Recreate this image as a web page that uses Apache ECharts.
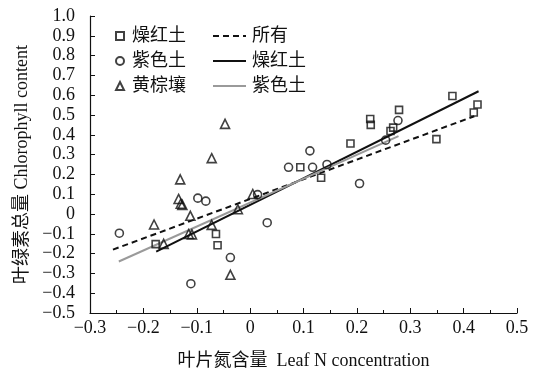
<!DOCTYPE html>
<html><head><meta charset="utf-8">
<script src="https://cdn.jsdelivr.net/npm/echarts@6/dist/echarts.min.js"></script>
<style>html,body{margin:0;padding:0;background:#fff}#c{width:534px;height:375px}</style>
</head><body><div id="c"></div>
<script>
// 燥红土 points [leafN, chlorophyll]
var redSoil = [[-0.177,-0.152],[-0.064,-0.101],[-0.061,-0.158],[0.094,0.236],[0.133,0.183],[0.188,0.356],[0.225,0.480],[0.226,0.450],[0.263,0.419],[0.268,0.436],[0.279,0.526],[0.349,0.378],[0.379,0.596],[0.419,0.513],[0.426,0.553]];
// 紫色土 points
var purpleSoil = [[-0.245,-0.097],[-0.111,-0.352],[-0.098,0.080],[-0.083,0.065],[-0.037,-0.220],[0.014,0.098],[0.032,-0.044],[0.072,0.236],[0.112,0.319],[0.117,0.236],[0.144,0.250],[0.205,0.154],[0.254,0.373],[0.277,0.472]];
// 黄棕壤 points
var yellowBrown = [[-0.180,-0.053],[-0.162,-0.151],[-0.131,0.175],[-0.134,0.076],[-0.130,0.052],[-0.127,0.046],[-0.112,-0.009],[-0.115,-0.101],[-0.109,-0.103],[-0.072,-0.055],[-0.072,0.282],[-0.047,0.455],[-0.037,-0.307],[-0.023,0.024],[0.005,0.101]];
// fitted lines (endpoints)
var fitAll = [[-0.257,-0.180],[0.420,0.494]];
var fitRed = [[-0.176,-0.190],[0.428,0.620]];
var fitPurple = [[-0.246,-0.240],[0.278,0.393]];
var scatterNames = ['燥红土','紫色土','黄棕壤'];
var lineNames = ['所有','燥红土','紫色土'];

var ink = '#111';
var serif = '"Liberation Serif","Times New Roman","Noto Sans CJK SC",serif';
function fmt(v){ var r = Math.round(v*10)/10; var s = (r===0)?'0':r.toFixed(1); return s.replace('-', '\u2212'); }
var hollow = {color:'rgba(255,255,255,0)', borderColor:ink, borderWidth:1.6};

var chart = echarts.init(document.getElementById('c'), null, {renderer:'canvas'});
chart.setOption({
  animation:false,
  backgroundColor:'#fff',
  grid:{left:90, right:17, top:16, bottom:55},
  legend:[{
    orient:'vertical', left:110, top:22, itemWidth:8, itemHeight:8, itemGap:7,
    data:['s0','s1','s2'],
    formatter:function(n){return scatterNames[+n.slice(1)];},
    textStyle:{fontFamily:serif, fontSize:18, color:ink, lineHeight:18, padding:[0,0,0,3]}
  },{
    orient:'vertical', left:207, top:22, itemWidth:33, itemHeight:8, itemGap:7,
    data:['l0','l1','l2'],
    itemStyle:{opacity:0},
    formatter:function(n){return lineNames[+n.slice(1)];},
    textStyle:{fontFamily:serif, fontSize:18, color:ink, lineHeight:18, padding:[0,0,0,1]}
  }],
  xAxis:{type:'value', min:-0.3, max:0.5, interval:0.1,
    name:'叶片氮含量  Leaf N concentration', nameLocation:'middle', nameGap:39,
    nameTextStyle:{fontFamily:serif, fontSize:18, color:ink},
    axisLine:{onZero:false, lineStyle:{color:ink, width:1.2}},
    axisTick:{inside:true, length:5, lineStyle:{color:ink}},
    minorTick:{show:true, splitNumber:2, length:3, lineStyle:{color:ink}},
    splitLine:{show:false},
    axisLabel:{formatter:fmt, fontFamily:serif, fontSize:18, color:ink, margin:6}
  },
  yAxis:{type:'value', min:-0.5, max:1.0, interval:0.1,
    name:'叶绿素总量 Chlorophyll content', nameLocation:'middle', nameGap:54, nameRotate:90,
    nameTextStyle:{fontFamily:serif, fontSize:18, color:ink},
    axisLine:{show:true, onZero:false, lineStyle:{color:ink, width:1.2}},
    axisTick:{show:true, inside:true, length:5, lineStyle:{color:ink}},
    splitLine:{show:false},
    axisLabel:{formatter:fmt, fontFamily:serif, fontSize:18, color:ink, margin:15}
  },
  series:[
    {name:'l0', type:'line', data:fitAll, symbol:'none', z:3, lineStyle:{color:ink, width:2, type:[6,4]}, itemStyle:{color:ink}},
    {name:'l1', type:'line', data:fitRed, symbol:'none', z:3, lineStyle:{color:ink, width:2}, itemStyle:{color:ink}},
    {name:'l2', type:'line', data:fitPurple, symbol:'none', z:3, lineStyle:{color:'#9a9a9a', width:2}, itemStyle:{color:'#9a9a9a'}},
    {name:'s0', type:'scatter', data:redSoil, symbol:'rect', symbolSize:7, itemStyle:hollow, z:4},
    {name:'s1', type:'scatter', data:purpleSoil, symbol:'circle', symbolSize:8, itemStyle:hollow, z:4},
    {name:'s2', type:'scatter', data:yellowBrown, symbol:'triangle', symbolSize:9, itemStyle:hollow, z:4}
  ]
});
</script></body></html>
